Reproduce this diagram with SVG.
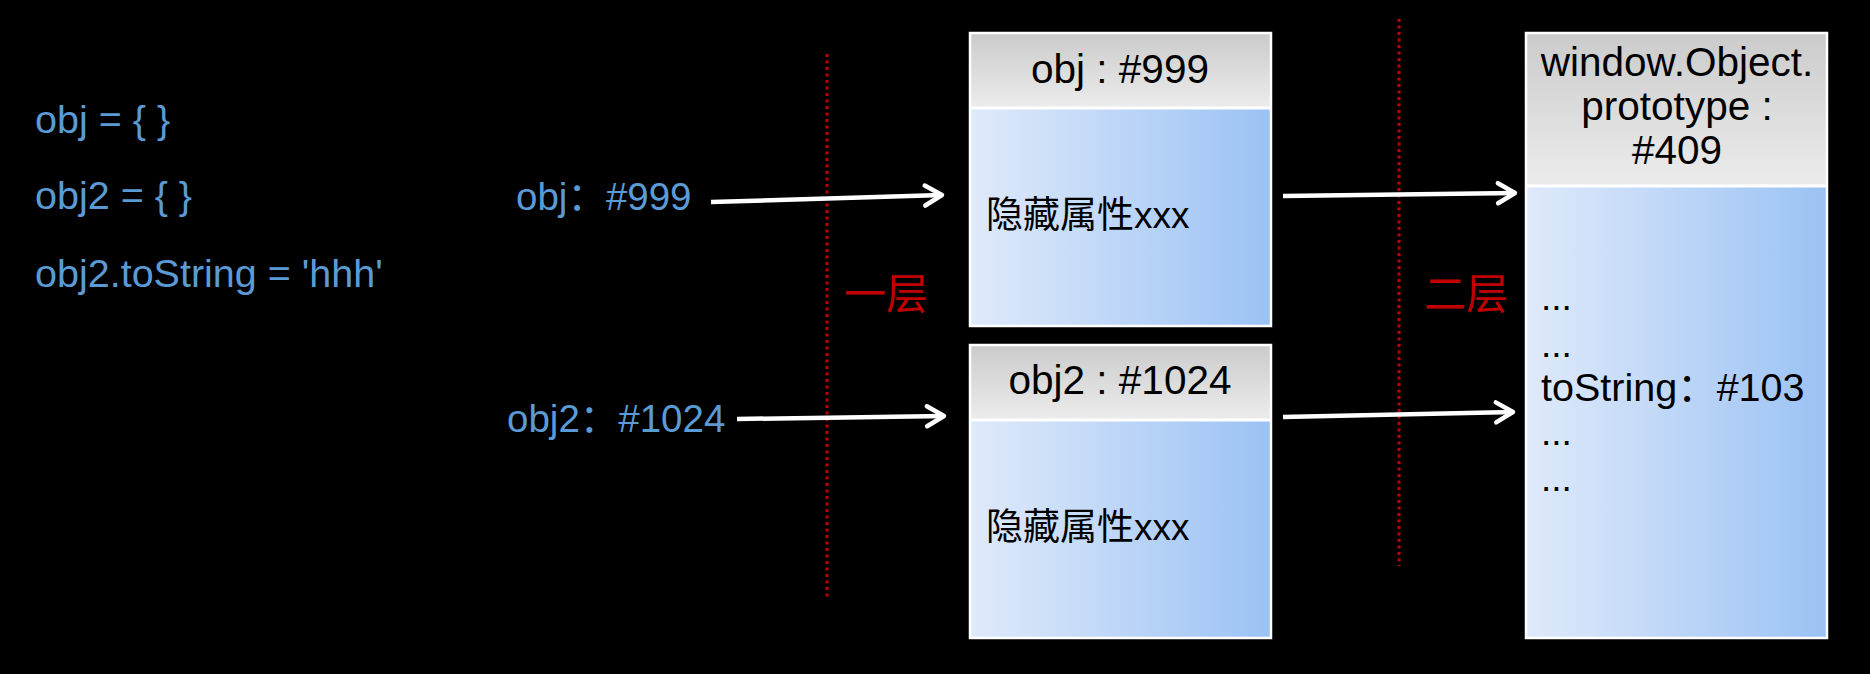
<svg xmlns="http://www.w3.org/2000/svg" width="1870" height="674" viewBox="0 0 1870 674">
  <style>
    .code { font-family: "Liberation Sans", "Noto Sans CJK SC", sans-serif; font-size: 39.5px; fill: #5B9BD5; }
    .lbl { font-family: "Liberation Sans", "Noto Sans CJK SC", sans-serif; font-size: 38.5px; fill: #5B9BD5; }
    .hdr { font-family: "Liberation Sans", "Noto Sans CJK SC", sans-serif; font-size: 40.5px; fill: #000; text-anchor: middle; }
    .body { font-family: "Liberation Sans", "Noto Sans CJK SC", sans-serif; font-size: 37px; fill: #000; }
    .wide { font-size: 39.5px; }
    .layer { font-family: "Noto Sans CJK SC", sans-serif; font-size: 42px; fill: #C00000; }
    .boxframe { fill: none; stroke: #fff; stroke-width: 2.5; }
    .div { stroke: #fff; stroke-width: 3; }
    .conn { stroke: #fff; stroke-width: 4.5; fill: none; marker-end: url(#arr); }
    .sep { stroke: #C00000; stroke-width: 3; stroke-dasharray: 3 3.5; fill: none; }
  </style>
  <defs>
    <linearGradient id="hdrGrad" x1="0" y1="0" x2="0" y2="1">
      <stop offset="0" stop-color="#cbcbcb"/>
      <stop offset="1" stop-color="#ececec"/>
    </linearGradient>
    <linearGradient id="bodyGrad" x1="0" y1="0" x2="1" y2="0">
      <stop offset="0" stop-color="#dfeafa"/>
      <stop offset="1" stop-color="#9bc2f4"/>
    </linearGradient>
    <marker id="arr" markerUnits="userSpaceOnUse" markerWidth="26" markerHeight="26" refX="21" refY="12" orient="auto" overflow="visible">
      <path d="M4,2 L21,12 L4,22" fill="none" stroke="#fff" stroke-width="4.5" stroke-linecap="round" stroke-linejoin="round"/>
    </marker>
  </defs>
  <rect x="0" y="0" width="1870" height="674" fill="#000"/>

  <g id="code">
    <text class="code" x="35" y="133">obj = { }</text>
    <text class="code" x="35" y="209">obj2 = { }</text>
    <text class="code" x="35" y="287">obj2.toString = 'hhh'</text>
  </g>

  <g id="label-obj">
    <text class="lbl" x="516" y="210">obj：#999</text>
  </g>
  <g id="label-obj2">
    <text class="lbl" x="507" y="432">obj2：#1024</text>
  </g>

  <g id="separators">
    <line class="sep" x1="827" y1="54" x2="827" y2="600"/>
    <line class="sep" x1="1399" y1="19" x2="1399" y2="566"/>
  </g>

  <g id="layer1">
    <text class="layer" x="844" y="309">一层</text>
  </g>
  <g id="layer2">
    <text class="layer" x="1424" y="309">二层</text>
  </g>

  <g id="box-obj">
    <rect x="970" y="33" width="301" height="75" fill="url(#hdrGrad)"/>
    <rect x="970" y="108" width="301" height="218" fill="url(#bodyGrad)"/>
    <line class="div" x1="970" y1="108" x2="1271" y2="108"/>
    <rect class="boxframe" x="970" y="33" width="301" height="293"/>
    <text class="hdr" x="1120" y="83">obj : #999</text>
    <text class="body" x="986" y="228">隐藏属性xxx</text>
  </g>

  <g id="box-obj2">
    <rect x="970" y="345" width="301" height="75" fill="url(#hdrGrad)"/>
    <rect x="970" y="420" width="301" height="218" fill="url(#bodyGrad)"/>
    <line class="div" x1="970" y1="420" x2="1271" y2="420"/>
    <rect class="boxframe" x="970" y="345" width="301" height="293"/>
    <text class="hdr" x="1120" y="394">obj2 : #1024</text>
    <text class="body" x="986" y="540">隐藏属性xxx</text>
  </g>

  <g id="box-proto">
    <rect x="1526" y="33" width="301" height="153" fill="url(#hdrGrad)"/>
    <rect x="1526" y="186" width="301" height="452" fill="url(#bodyGrad)"/>
    <line class="div" x1="1526" y1="186" x2="1827" y2="186"/>
    <rect class="boxframe" x="1526" y="33" width="301" height="605"/>
    <text class="hdr" x="1677" y="76">window.Object.</text>
    <text class="hdr" x="1677" y="120">prototype :</text>
    <text class="hdr" x="1677" y="164">#409</text>
    <text class="body" x="1541" y="310">...</text>
    <text class="body" x="1541" y="357">...</text>
    <text class="body wide" x="1541" y="401">toString：#103</text>
    <text class="body" x="1541" y="445">...</text>
    <text class="body" x="1541" y="491">...</text>
  </g>

  <g id="connectors">
    <line class="conn" x1="711" y1="202" x2="942" y2="195"/>
    <line class="conn" x1="737" y1="419" x2="944" y2="416"/>
    <line class="conn" x1="1283" y1="196" x2="1515" y2="193"/>
    <line class="conn" x1="1283" y1="417" x2="1513" y2="412"/>
  </g>
</svg>
